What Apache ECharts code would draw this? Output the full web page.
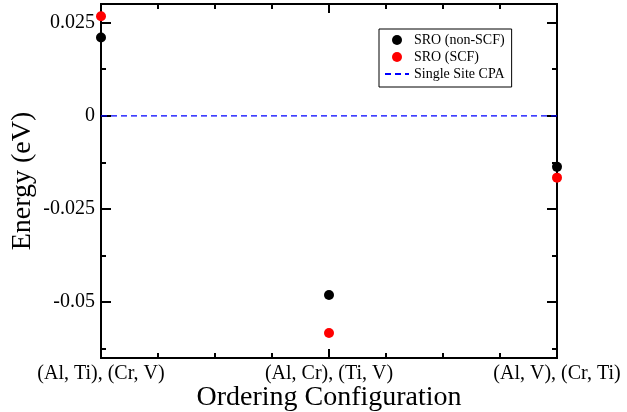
<!DOCTYPE html>
<html>
<head>
<meta charset="utf-8">
<script src="https://cdn.jsdelivr.net/npm/echarts@6/dist/echarts.min.js"></script>
<style>
  html, body { margin: 0; padding: 0; background: #fff; }
  #main { width: 627px; height: 412px; }
</style>
</head>
<body>
<div id="main"></div>
<script>
var categories = ['(Al, Ti), (Cr, V)', '(Al, Cr), (Ti, V)', '(Al, V), (Cr, Ti)'];
var nonScf = [0.0210, -0.0481, -0.0137];
var scf = [0.0267, -0.0583, -0.0166];
var cpaX = [0, 2];
var cpaY = [0, 0];
var yTicks = [-0.05, -0.025, 0, 0.025];
var yMinorTicks = [-0.0625, -0.0375, -0.0125, 0.0125];

var font = 'Liberation Serif';

function pts(vals) {
    return vals.map(function (v, i) { return [i, v]; });
}

function yAxisCfg(pos, ticks, len, labels) {
    return {
        type: 'value',
        position: pos,
        min: -0.065,
        max: 0.03,
        splitLine: { show: false },
        axisLine: { show: true, onZero: false, lineStyle: { color: '#000', width: 2 } },
        axisTick: { show: true, inside: true, length: len, customValues: ticks, lineStyle: { color: '#000', width: 2 } },
        axisLabel: labels ? {
            show: true, customValues: ticks, color: '#000', fontFamily: font, fontSize: 20, margin: 6,
            formatter: function (v) { return v === 0 ? '0' : String(v); }
        } : { show: false }
    };
}

function xAxisCfg(pos) {
    return {
        type: 'value',
        position: pos,
        min: 0,
        max: 2,
        interval: 1,
        splitLine: { show: false },
        axisLine: { onZero: false, lineStyle: { color: '#000', width: 2 } },
        axisTick: { inside: true, length: 9, lineStyle: { color: '#000', width: 2 } },
        minorTick: { show: true, splitNumber: 4, length: 5, lineStyle: { color: '#000', width: 2 } },
        axisLabel: { show: false }
    };
}

var xBottom = xAxisCfg('bottom');
xBottom.name = 'Ordering Configuration';
xBottom.nameLocation = 'middle';
xBottom.nameGap = 26;
xBottom.nameMoveOverlap = false;
xBottom.nameTextStyle = { fontFamily: font, fontSize: 28, color: '#000' };
xBottom.axisLabel = {
    show: true, color: '#000', fontFamily: font, fontSize: 20, margin: 6,
    formatter: function (v) { return categories[v] || ''; }
};

option = {
    animation: false,
    grid: { left: 101, top: 4, right: 70, bottom: 54, outerBoundsMode: 'none', containLabel: false },
    legend: {
        orient: 'vertical',
        left: 379,
        top: 29,
        padding: [4, 7, 6, 5],
        borderColor: '#000',
        borderWidth: 1,
        itemWidth: 24,
        itemHeight: 10,
        itemGap: 3,
        textStyle: { fontFamily: font, fontSize: 14, lineHeight: 14, color: '#000' },
        data: [
            { name: 'SRO (non-SCF)', icon: 'circle' },
            { name: 'SRO (SCF)', icon: 'circle' },
            { name: 'Single Site CPA', itemStyle: { opacity: 0 } }
        ]
    },
    xAxis: [xBottom, xAxisCfg('top')],
    yAxis: [
        Object.assign(yAxisCfg('left', yTicks, 10, true), {
            name: 'Energy (eV)',
            nameLocation: 'middle',
            nameGap: 64,
            nameMoveOverlap: false,
            nameRotate: 90,
            nameTextStyle: { fontFamily: font, fontSize: 28, color: '#000' }
        }),
        yAxisCfg('left', yMinorTicks, 5, false),
        yAxisCfg('right', yTicks, 10, false),
        yAxisCfg('right', yMinorTicks, 5, false)
    ],
    series: [
        {
            name: 'Single Site CPA',
            type: 'line',
            symbol: 'none',
            color: '#0000ff',
            lineStyle: { color: '#0000ff', width: 1.3, type: [6, 4] },
            data: cpaX.map(function (x, i) { return [x, cpaY[i]]; }),
            z: 1
        },
        {
            name: 'SRO (non-SCF)',
            type: 'scatter',
            symbolSize: 10,
            color: '#000000',
            itemStyle: { opacity: 1 },
            clip: false,
            data: pts(nonScf),
            z: 3
        },
        {
            name: 'SRO (SCF)',
            type: 'scatter',
            symbolSize: 10,
            color: '#ff0000',
            itemStyle: { opacity: 1 },
            clip: false,
            data: pts(scf),
            z: 3
        }
    ]
};

var chartDom = document.getElementById('main');
var myChart = echarts.init(chartDom);
myChart.setOption(option);
</script>
</body>
</html>
